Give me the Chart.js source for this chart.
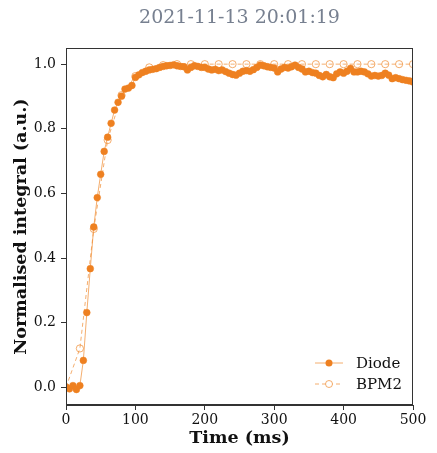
<!DOCTYPE html>
<html lang="en">
<head>
  <meta charset="UTF-8">
  <title>Normalised integral</title>
  <script src="https://cdn.jsdelivr.net/npm/chart.js"></script>
  <style>
    body { margin: 0; background: #fff; }
    .chart-container { position: relative; width: 437px; height: 453px; }
  </style>
</head>
<body>
  <div class="chart-container">
    <canvas id="lineChart"></canvas>
  </div>

  <script>
    // Data
    const diodeTimes = [0,5,10,15,20,25,30,35,40,45,50,55,60,65,70,75,80,85,90,95,
      100,105,110,115,120,125,130,135,140,145,150,155,160,165,170,175,180,185,190,195,
      200,205,210,215,220,225,230,235,240,245,250,255,260,265,270,275,280,285,290,295,
      300,305,310,315,320,325,330,335,340,345,350,355,360,365,370,375,380,385,390,395,
      400,405,410,415,420,425,430,435,440,445,450,455,460,465,470,475,480,485,490,495,500];
    const diodeValues = [0.0,-0.005,0.005,-0.007,0.005,0.083,0.231,0.367,0.496,0.587,
      0.659,0.73,0.774,0.817,0.858,0.882,0.901,0.923,0.926,0.934,
      0.959,0.967,0.974,0.978,0.982,0.984,0.986,0.99,0.993,0.995,
      0.996,0.998,0.995,0.993,0.992,0.982,0.99,0.995,0.993,0.99,
      0.99,0.985,0.982,0.984,0.98,0.982,0.977,0.972,0.968,0.966,
      0.972,0.978,0.98,0.978,0.983,0.99,0.997,0.995,0.992,0.99,
      0.988,0.976,0.985,0.99,0.988,0.992,0.997,0.99,0.985,0.976,
      0.978,0.974,0.972,0.965,0.961,0.968,0.961,0.958,0.97,0.976,
      0.972,0.978,0.987,0.976,0.976,0.978,0.976,0.97,0.963,0.965,
      0.963,0.965,0.972,0.966,0.955,0.958,0.955,0.952,0.95,0.948,0.945];
    const bpmTimes = [0,20,40,60,80,100,120,140,160,180,200,220,240,260,280,300,
      320,340,360,380,400,420,440,460,480,500];
    const bpmValues = [0.0,0.12,0.49,0.765,0.904,0.963,0.99,0.997,1.0,1.0,1.0,1.0,1.0,
      1.0,1.0,1.0,1.0,1.0,1.0,1.0,1.0,1.0,1.0,1.0,1.0,1.0];
    const yTicks = [0, 0.2, 0.4, 0.6, 0.8, 1.0];
    const xTicks = [0, 100, 200, 300, 400, 500];

    const seriesNames = ['Diode', 'BPM2'];
    const titleText = '2021-11-13 20:01:19';
    const orange = '#ee8020';
    const orangeLight = 'rgba(240,140,50,0.7)';
    const serif = "'DejaVu Serif', serif";

    // title centred over the plot, full box around the plot and an in-plot legend
    const framePlugin = {
      id: 'frame',
      afterDraw(chart) {
        const { ctx, chartArea: a } = chart;
        ctx.save();
        ctx.fillStyle = '#778090';
        ctx.font = '19px ' + serif;
        ctx.textAlign = 'center';
        ctx.textBaseline = 'middle';
        ctx.fillText(titleText, (a.left + a.right) / 2, 18);

        ctx.strokeStyle = '#333';
        ctx.lineWidth = 1;
        ctx.strokeRect(a.left + 0.5, a.top + 0.5, a.right - a.left - 1, a.bottom - a.top - 1);

        // legend
        const lx = a.right - 98, rows = [a.bottom - 42, a.bottom - 21];
        ctx.font = '15px ' + serif;
        ctx.textAlign = 'left';
        rows.forEach((y, i) => {
          ctx.strokeStyle = orangeLight;
          ctx.setLineDash(i === 0 ? [] : [4, 3]);
          ctx.beginPath();
          ctx.moveTo(lx, y);
          ctx.lineTo(lx + 28, y);
          ctx.stroke();
          ctx.setLineDash([]);
          ctx.beginPath();
          ctx.arc(lx + 14, y, 3.5, 0, Math.PI * 2);
          if (i === 0) { ctx.fillStyle = orange; ctx.fill(); }
          else { ctx.fillStyle = '#fff'; ctx.fill(); ctx.strokeStyle = orangeLight; ctx.stroke(); }
          ctx.fillStyle = '#111';
          ctx.fillText(seriesNames[i], lx + 41, y + 1);
        });
        ctx.restore();
      }
    };

    const config = {
      type: 'line',
      data: {
        datasets: [{
          label: seriesNames[0],
          data: diodeTimes.map((t, i) => ({ x: t, y: diodeValues[i] })),
          borderColor: orangeLight,
          borderWidth: 1,
          pointBackgroundColor: orange,
          pointBorderColor: orange,
          pointRadius: 3.4,
          pointBorderWidth: 0.5,
          tension: 0
        }, {
          label: seriesNames[1],
          data: bpmTimes.map((t, i) => ({ x: t, y: bpmValues[i] })),
          borderColor: orangeLight,
          borderWidth: 1,
          borderDash: [4, 3],
          pointBackgroundColor: 'rgba(0,0,0,0)',
          pointBorderColor: orangeLight,
          pointRadius: 3.6,
          pointBorderWidth: 1,
          tension: 0
        }]
      },
      options: {
        responsive: true,
        maintainAspectRatio: false,
        animation: false,
        layout: { padding: { left: 0, right: 24, top: 48, bottom: 0 } },
        plugins: {
          legend: { display: false },
          tooltip: { enabled: false },
          title: { display: false }
        },
        scales: {
          x: {
            type: 'linear',
            min: 0,
            max: 500,
            afterFit(scale) { scale.height = 48; },
            afterBuildTicks(scale) { scale.ticks = xTicks.map(v => ({ value: v })); },
            grid: { drawOnChartArea: false, color: '#333', tickLength: 5 },
            border: { color: '#333' },
            ticks: { color: '#111', font: { family: serif, size: 14 }, padding: 2, maxRotation: 0 },
            title: {
              display: true,
              text: 'Time (ms)',
              color: '#111',
              font: { family: serif, size: 17.5, weight: 'bold' },
              padding: { top: 0, bottom: 4.5 }
            }
          },
          y: {
            min: -0.055,
            max: 1.05,
            afterFit(scale) { scale.width = 66; },
            afterBuildTicks(scale) { scale.ticks = yTicks.map(v => ({ value: v })); },
            grid: { drawOnChartArea: false, color: '#333', tickLength: 5 },
            border: { color: '#333' },
            ticks: {
              color: '#111',
              font: { family: serif, size: 14 },
              padding: 5,
              callback: v => v.toFixed(1)
            },
            title: {
              display: true,
              text: 'Normalised integral (a.u.)',
              color: '#111',
              font: { family: serif, size: 17.5, weight: 'bold' },
              padding: { top: 10.5, bottom: 0 }
            }
          }
        }
      },
      plugins: [framePlugin]
    };

    const ctx = document.getElementById('lineChart').getContext('2d');
    const chart = new Chart(ctx, config);
  </script>
</body>
</html>
